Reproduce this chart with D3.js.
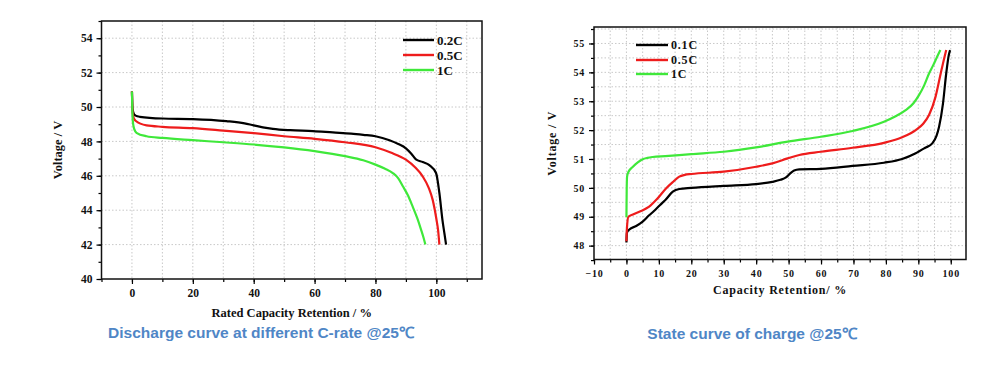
<!DOCTYPE html>
<html><head><meta charset="utf-8">
<script src="https://cdn.jsdelivr.net/npm/d3@7"></script>
<style>
body{margin:0;background:#fff;}
svg{display:block;}
</style></head>
<body>
<svg id="c" width="1000" height="365"></svg>
<script>
// ---- Discharge chart data (x: rated capacity retention %, y: voltage V)
const dis02x = [0, 0.2, 0.6, 1.2, 2.6, 10, 20, 31, 37, 40, 43, 46.3, 52, 59.5, 66, 72, 76, 80, 84.6, 87.5, 90, 91.7, 93.3, 95.5, 97.7, 99.9, 101, 102, 102.7, 103.2];
const dis02y = [50.9, 49.9, 49.6, 49.5, 49.43, 49.33, 49.3, 49.18, 49.05, 48.93, 48.82, 48.73, 48.65, 48.6, 48.52, 48.45, 48.38, 48.3, 48.07, 47.85, 47.6, 47.3, 46.95, 46.8, 46.62, 46.16, 45.0, 43.44, 42.6, 42.0];
const dis05x = [0, 0.2, 0.6, 1.2, 4.8, 10, 20, 30, 40, 50, 60, 70, 80, 85, 90, 93, 95.5, 97.5, 98.8, 100, 100.6, 101];
const dis05y = [50.9, 49.7, 49.35, 49.2, 48.93, 48.85, 48.77, 48.63, 48.48, 48.3, 48.15, 47.95, 47.66, 47.35, 46.94, 46.5, 45.97, 45.3, 44.6, 43.5, 42.8, 42.0];
const dis1x = [0, 0.15, 0.4, 0.8, 1.5, 4.8, 10, 20, 30, 40, 50, 60, 70, 76, 80, 83, 85.7, 87.5, 89, 90.7, 92.2, 93.7, 95, 95.8, 96.4];
const dis1y = [50.9, 49.6, 49.0, 48.7, 48.5, 48.3, 48.2, 48.07, 47.95, 47.82, 47.65, 47.43, 47.14, 46.9, 46.65, 46.42, 46.16, 45.85, 45.39, 44.85, 44.22, 43.55, 42.86, 42.4, 42.0];

// ---- Charge chart data (x: capacity retention %, y: voltage V)
const chg01x = [0, 0.15, 0.9, 3, 5, 7, 8.5, 10.3, 12, 14.3, 16.3, 20, 30, 40, 45, 47.5, 49.2, 50.5, 51.7, 53.3, 60, 69.7, 79.4, 85, 89.2, 92, 94.3, 95.6, 96.4, 97.6, 98.6, 99.4, 99.8];
const chg01y = [48.11, 48.45, 48.56, 48.68, 48.83, 49.05, 49.2, 49.4, 49.58, 49.87, 49.96, 50.0, 50.07, 50.13, 50.21, 50.28, 50.36, 50.5, 50.6, 50.64, 50.66, 50.76, 50.87, 51.0, 51.2, 51.38, 51.54, 51.8, 52.12, 52.92, 53.96, 54.6, 54.77];
const chg05x = [0, 0.15, 0.6, 2, 4.5, 7, 9.5, 12.2, 14.5, 16.3, 18, 20, 30, 40, 45, 49.7, 53.3, 60, 69.7, 79.4, 85, 89.2, 91.5, 93.3, 95.3, 96.9, 98, 98.6];
const chg05y = [48.15, 48.6, 49.0, 49.08, 49.2, 49.35, 49.62, 49.98, 50.22, 50.39, 50.45, 50.48, 50.56, 50.73, 50.85, 51.02, 51.14, 51.25, 51.39, 51.56, 51.75, 52.0, 52.22, 52.52, 53.15, 53.96, 54.5, 54.77];
const chg1x = [0, 0.08, 0.2, 0.6, 2, 3.5, 5, 6.5, 8.1, 12, 20, 30, 40, 49.7, 60, 69.7, 79.4, 83, 86.1, 88.5, 90.2, 91.8, 93.3, 94.6, 95.8, 96.8];
const chg1y = [48.98, 49.9, 50.39, 50.55, 50.73, 50.88, 50.99, 51.04, 51.07, 51.1, 51.17, 51.25, 51.4, 51.6, 51.77, 51.97, 52.29, 52.48, 52.69, 52.93, 53.21, 53.55, 53.96, 54.25, 54.54, 54.77];

const leftLegend = ["0.2C", "0.5C", "1C"];
const rightLegend = ["0.1C", "0.5C", "1C"];
const seriesColors = ["#000000", "#ee1c1c", "#3fe83a"];

const leftXTicks = [0, 20, 40, 60, 80, 100];
const leftYTicks = [40, 42, 44, 46, 48, 50, 52, 54];
const rightXTicks = [-10, 0, 10, 20, 30, 40, 50, 60, 70, 80, 90, 100];
const rightYTicks = [48, 49, 50, 51, 52, 53, 54, 55];

const leftCaption = "Discharge curve at different C-rate @25℃";
const rightCaption = "State curve of charge @25℃";

const svg = d3.select("#c");
const serif = "'Liberation Serif','Times New Roman',serif";

function drawChart(cfg) {
  const g = svg.append("g");
  const x = d3.scaleLinear().domain(cfg.xDomain).range([cfg.left, cfg.right]);
  const y = d3.scaleLinear().domain(cfg.yDomain).range([cfg.bottom, cfg.top]);

  // grid
  const gridX = d3.range(cfg.gridX[0], cfg.gridX[1] + 1e-9, cfg.gridX[2]);
  const gridY = d3.range(cfg.gridY[0], cfg.gridY[1] + 1e-9, cfg.gridY[2]);
  g.append("g").selectAll("line").data(gridX).join("line")
    .attr("x1", d => x(d)).attr("x2", d => x(d)).attr("y1", cfg.top).attr("y2", cfg.bottom)
    .attr("stroke", "#c8c8c8").attr("stroke-width", 1).attr("stroke-dasharray", "1.5,2");
  g.append("g").selectAll("line").data(gridY).join("line")
    .attr("y1", d => y(d)).attr("y2", d => y(d)).attr("x1", cfg.left).attr("x2", cfg.right)
    .attr("stroke", "#c8c8c8").attr("stroke-width", 1).attr("stroke-dasharray", "1.5,2");

  // minor ticks
  const minorX = d3.range(cfg.minorX[0], cfg.minorX[1] + 1e-9, cfg.minorX[2]);
  const minorY = d3.range(cfg.minorY[0], cfg.minorY[1] + 1e-9, cfg.minorY[2]);
  g.append("g").attr("transform", `translate(0,${cfg.bottom})`)
    .call(d3.axisBottom(x).tickValues(minorX).tickSize(3).tickFormat(""))
    .call(a => a.select(".domain").remove())
    .call(a => a.selectAll("line").attr("stroke", "#000").attr("stroke-width", 1.2));
  g.append("g").attr("transform", `translate(${cfg.left},0)`)
    .call(d3.axisLeft(y).tickValues(minorY).tickSize(3).tickFormat(""))
    .call(a => a.select(".domain").remove())
    .call(a => a.selectAll("line").attr("stroke", "#000").attr("stroke-width", 1.2));

  // major axes
  const ax = g.append("g").attr("transform", `translate(0,${cfg.bottom})`)
    .call(d3.axisBottom(x).tickValues(cfg.xTicks).tickSize(5).tickPadding(cfg.xPad).tickFormat(d3.format("d")));
  const ay = g.append("g").attr("transform", `translate(${cfg.left},0)`)
    .call(d3.axisLeft(y).tickValues(cfg.yTicks).tickSize(5).tickPadding(4).tickFormat(d3.format("d")));
  [ax, ay].forEach(a => {
    a.select(".domain").remove();
    a.selectAll("line").attr("stroke", "#000").attr("stroke-width", 1.2);
    a.selectAll("text").attr("fill", "#111").style("font-family", serif)
      .style("font-weight", "bold").style("font-size", cfg.tickFont + "px")
      .style("letter-spacing", cfg.spacing + "px");
  });

  // lines
  const line = d3.line().x(d => x(d[0])).y(d => y(d[1])).curve(d3.curveMonotoneX);
  const clipId = "clip" + cfg.id;
  g.append("clipPath").attr("id", clipId).append("rect")
    .attr("x", cfg.left).attr("y", cfg.top).attr("width", cfg.right - cfg.left).attr("height", cfg.bottom - cfg.top);
  cfg.series.forEach((s, i) => {
    const pts = s.x.map((v, k) => [v, s.y[k]]);
    g.append("path").datum(pts).attr("d", line).attr("fill", "none")
      .attr("clip-path", `url(#${clipId})`)
      .attr("stroke", seriesColors[i]).attr("stroke-width", 2.2).attr("stroke-linejoin", "round");
  });

  // frame
  g.append("rect").attr("x", cfg.left).attr("y", cfg.top)
    .attr("width", cfg.right - cfg.left).attr("height", cfg.bottom - cfg.top)
    .attr("fill", "none").attr("stroke", "#111").attr("stroke-width", 1.5);

  // legend
  const lg = g.append("g");
  cfg.legend.forEach((name, i) => {
    const ly = cfg.legY[i];
    lg.append("line").attr("x1", cfg.legX).attr("x2", cfg.legX + cfg.legLen).attr("y1", ly).attr("y2", ly)
      .attr("stroke", seriesColors[i]).attr("stroke-width", 2.4);
    lg.append("text").attr("x", cfg.legX + cfg.legLen + 3).attr("y", ly).attr("dy", "0.35em")
      .text(name).style("font-family", serif).style("font-weight", "bold")
      .style("font-size", cfg.legFont + "px").style("letter-spacing", cfg.spacing + "px").attr("fill", "#111");
  });

  // axis titles
  g.append("text").attr("x", (cfg.left + cfg.right) / 2).attr("y", cfg.xTitleY)
    .attr("text-anchor", "middle").text(cfg.xTitle)
    .style("font-family", serif).style("font-weight", "bold").style("font-size", cfg.titleFont + "px")
    .style("letter-spacing", cfg.spacing + "px").attr("fill", "#111");
  g.append("text").attr("transform", `translate(${cfg.yTitleX},${(cfg.top + cfg.bottom) / 2}) rotate(-90)`)
    .attr("text-anchor", "middle").text("Voltage / V")
    .style("font-family", serif).style("font-weight", "bold").style("font-size", cfg.titleFont + "px")
    .style("letter-spacing", cfg.spacing + "px").attr("fill", "#111");

  // caption
  g.append("text").attr("x", cfg.capX).attr("y", cfg.capY).attr("text-anchor", "middle")
    .text(cfg.caption).style("font-family", "'Liberation Sans',Arial,sans-serif")
    .style("font-weight", "bold").style("font-size", "15.5px").attr("fill", "#4f86c6");
}

drawChart({
  id: "L", left: 101.5, right: 482, top: 21, bottom: 279,
  xDomain: [-10, 115], yDomain: [40, 55],
  xTicks: leftXTicks, yTicks: leftYTicks,
  minorX: [-10, 110, 10], minorY: [40, 55, 1],
  gridX: [-10, 110, 10], gridY: [42, 54, 2],
  xPad: 5, tickFont: 11.5, spacing: 0, legFont: 13, titleFont: 12.5,
  series: [{x: dis02x, y: dis02y}, {x: dis05x, y: dis05y}, {x: dis1x, y: dis1y}],
  legend: leftLegend, legX: 403, legLen: 31, legY: [40, 55, 70],
  xTitle: "Rated Capacity Retention / %", xTitleY: 317, yTitleX: 62,
  caption: leftCaption, capX: 261, capY: 338
});

drawChart({
  id: "R", left: 594, right: 966, top: 27, bottom: 259.5,
  xDomain: [-10, 104.7], yDomain: [47.52, 55.57],
  xTicks: rightXTicks, yTicks: rightYTicks,
  minorX: [-10, 100, 5], minorY: [47.5, 55.5, 0.5],
  gridX: [-5, 100, 5], gridY: [48, 55.5, 0.5],
  xPad: 5, tickFont: 10, spacing: 0.8, legFont: 12, titleFont: 12,
  series: [{x: chg01x, y: chg01y}, {x: chg05x, y: chg05y}, {x: chg1x, y: chg1y}],
  legend: rightLegend, legX: 636, legLen: 32, legY: [45, 60, 74],
  xTitle: "Capacity Retention/ %", xTitleY: 294, yTitleX: 556,
  caption: rightCaption, capX: 752, capY: 339
});
</script>
</body></html>
